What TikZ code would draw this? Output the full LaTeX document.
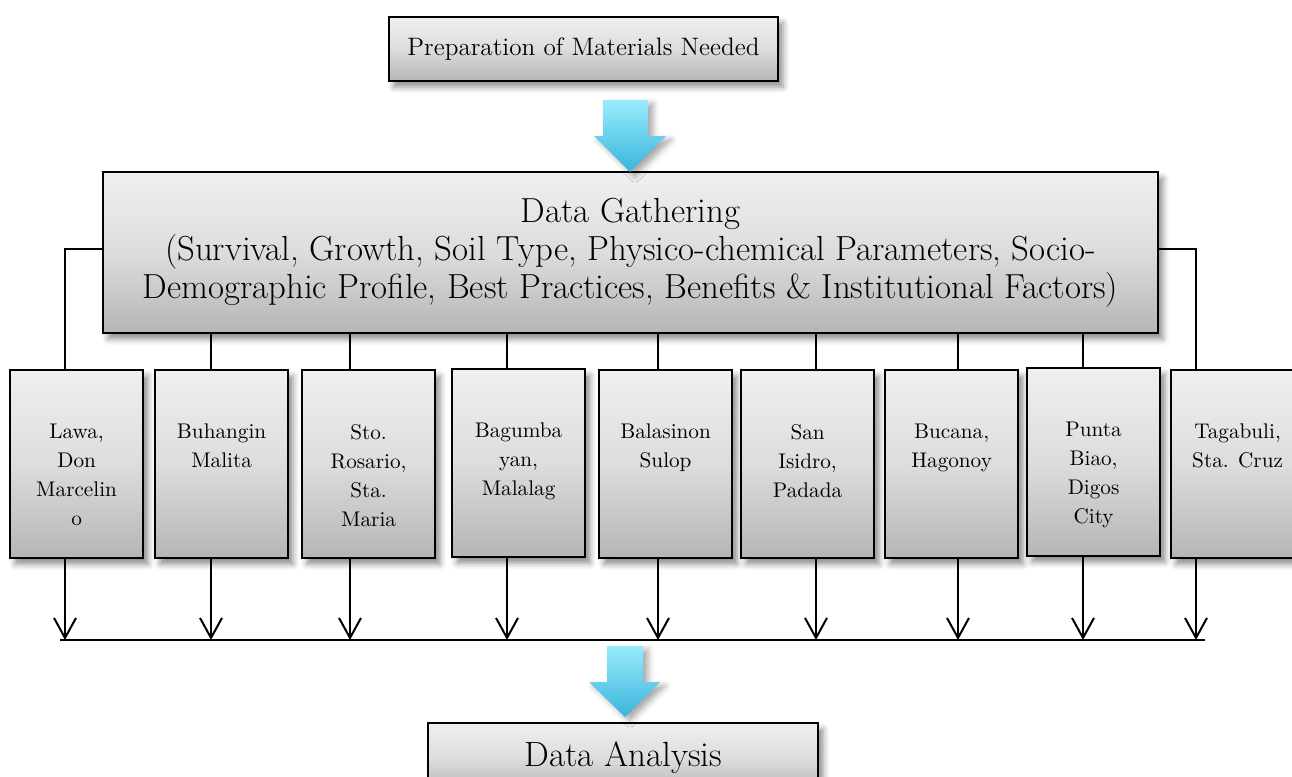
\documentclass[tikz,border=0pt]{standalone}
\usepackage{fontspec}
\usepackage{tikz}
\usetikzlibrary{arrows.meta, positioning, shadows.blur}

\definecolor{arrowtop}{RGB}{152,236,252}
\definecolor{arrowbot}{RGB}{58,180,220}

\newcommand{\sitetext}[1]{\parbox[c][94pt][t]{66.5pt}{\centering\vspace*{27pt}#1}}

\begin{document}
\begin{tikzpicture}[
  x=0.5pt, y=-0.5pt,
  >={Straight Barb[length=10pt,width=11pt]},
  boxshade/.style={
    rectangle, draw=black, line width=1.1pt,
    top color=gray!12, bottom color=gray!58, middle color=gray!27,
    blur shadow={shadow xshift=2.5pt, shadow yshift=-3pt,
      shadow blur radius=3pt, shadow opacity=45}
  },
  stage/.style={boxshade, minimum width=194.5pt, minimum height=32pt,
    font=\fontsize{12.6}{15}\selectfont},
  bigbox/.style={boxshade, minimum width=527.5pt, minimum height=80.5pt,
    align=center, font=\fontsize{17.4}{18.9}\selectfont},
  endbox/.style={boxshade, minimum width=195pt, minimum height=35pt,
    font=\fontsize{17.5}{19}\selectfont},
  site/.style={boxshade, inner sep=0pt, font=\fontsize{10.6}{14.5}\selectfont},
  link/.style={line width=1pt},
  drop/.style={line width=1pt, ->},
  flowarrow/.style={top color=arrowtop, bottom color=arrowbot,
    blur shadow={shadow xshift=2.5pt, shadow yshift=-2pt,
      shadow blur radius=3pt, shadow opacity=35}}
]
\useasboundingbox (0,0) rectangle (1292,777);
\clip (0,0) rectangle (1292,777);

% Stages
\node[stage] (prep) at (583.5,49) {Preparation of Materials Needed};
\node[bigbox] (gather) at (630.5,252.5)
  {Data Gathering\\
   (Survival, Growth, Soil Type, Physico-chemical Parameters, Socio-\\
   Demographic Profile, Best Practices, Benefits \& Institutional Factors)};
\node[endbox, anchor=north west] (analysis) at (427,722) {Data Analysis};

% Block arrows
\shade[flowarrow] (603,100) -- (648,100) -- (648,136) -- (666,136)
  -- (630,172) -- (594,136) -- (603,136) -- cycle;
\shade[flowarrow] (607,646) -- (643,646) -- (643,682) -- (660,682)
  -- (625,717) -- (589,682) -- (607,682) -- cycle;

% Sampling sites
\node[site, anchor=north west] (lawa) at (9,369) {\sitetext{Lawa,\\Don\\Marcelin\\o}};
\node[site, anchor=north west] (buhangin) at (154,369) {\sitetext{Buhangin\\Malita}};
\node[site, anchor=north west] (rosario) at (301,369) {\sitetext{Sto.\\Rosario,\\Sta.\\Maria}};
\node[site, anchor=north west] (bagumbayan) at (451,368) {\sitetext{Bagumba\\yan,\\Malalag}};
\node[site, anchor=north west] (balasinon) at (598,369) {\sitetext{Balasinon\\Sulop}};
\node[site, anchor=north west] (isidro) at (740,369) {\sitetext{San\\Isidro,\\Padada}};
\node[site, anchor=north west] (bucana) at (884,369) {\sitetext{Bucana,\\Hagonoy}};
\node[site, anchor=north west] (punta) at (1026,367) {\sitetext{Punta\\Biao,\\Digos\\City}};
\node[site, anchor=north west] (tagabuli) at (1170,369) {\sitetext{Tagabuli,\\Sta. Cruz}};

% Collecting line
\coordinate (busL) at (60,640);
\coordinate (busR) at (1205,640);
\coordinate (buslawa) at (65,640);
\coordinate (busbuhangin) at (211,640);
\coordinate (busrosario) at (350,640);
\coordinate (busbagumbayan) at (507,640);
\coordinate (busbalasinon) at (658,640);
\coordinate (busisidro) at (816,640);
\coordinate (busbucana) at (958,640);
\coordinate (buspunta) at (1083,640);
\coordinate (bustagabuli) at (1196,640);

% Links from data gathering
\draw[link] ([yshift=1.75pt]gather.west) -| (lawa.north -| buslawa);
\draw[link] (gather.south -| busbuhangin) -- (buhangin.north -| busbuhangin);
\draw[link] (gather.south -| busrosario) -- (rosario.north -| busrosario);
\draw[link] (gather.south -| busbagumbayan) -- (bagumbayan.north -| busbagumbayan);
\draw[link] (gather.south -| busbalasinon) -- (balasinon.north -| busbalasinon);
\draw[link] (gather.south -| busisidro) -- (isidro.north -| busisidro);
\draw[link] (gather.south -| busbucana) -- (bucana.north -| busbucana);
\draw[link] (gather.south -| buspunta) -- (punta.north -| buspunta);
\draw[link] ([yshift=1.75pt]gather.east) -| (tagabuli.north -| bustagabuli);

% Drops to the collecting line
\draw[drop] (lawa.south -| buslawa) -- (buslawa);
\draw[drop] (buhangin.south -| busbuhangin) -- (busbuhangin);
\draw[drop] (rosario.south -| busrosario) -- (busrosario);
\draw[drop] (bagumbayan.south -| busbagumbayan) -- (busbagumbayan);
\draw[drop] (balasinon.south -| busbalasinon) -- (busbalasinon);
\draw[drop] (isidro.south -| busisidro) -- (busisidro);
\draw[drop] (bucana.south -| busbucana) -- (busbucana);
\draw[drop] (punta.south -| buspunta) -- (buspunta);
\draw[drop] (tagabuli.south -| bustagabuli) -- (bustagabuli);
\draw[link] (busL) -- (busR);

\end{tikzpicture}
\end{document}
